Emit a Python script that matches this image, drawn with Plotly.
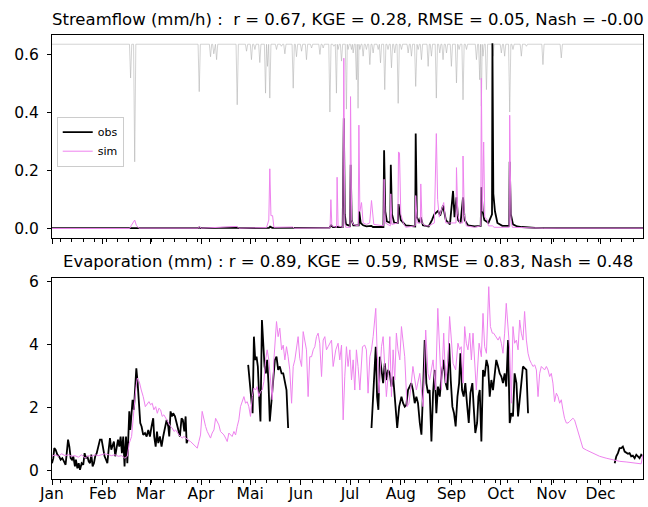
import pandas as pd
import plotly.graph_objects as go

START = pd.Timestamp("2020-01-01")
END_DAY = 360.9

# ---------------- Streamflow (mm/h) ----------------
q_obs_day = [0, 47, 48.5, 50.5, 52, 89.5, 90, 91, 113, 114, 132.5, 133.2, 134.5, 147.3, 160,
             169.5, 170.5, 171.5, 177.5, 178.2, 178.8, 179.5, 182, 182.4, 183, 184, 187.3, 187.6,
             188.5, 190, 192, 195, 196, 202.4, 202.8, 203.5, 204.5, 206.6, 206.9, 207.6, 209,
             211.2, 211.6, 213, 216, 221.8, 222.1, 222.8, 224.5, 225.2, 226.5, 230, 232, 233.5,
             235.8, 237, 238.8, 240.5, 243, 244.9, 245.8, 247, 248, 249.5, 251, 252, 254, 258,
             261.8, 262.2, 263, 264, 266.5, 268.7, 268.95, 269.5, 270.5, 272, 275, 279.2, 279.5,
             280.2, 281.5, 284, 287, 295, 310, 361]
q_obs = [0.002, 0.002, 0.004, 0.004, 0.002, 0.002, 0.005, 0.002, 0.004, 0.002, 0.003, 0.007, 0.003,
         0.004, 0.003, 0.004, 0.012, 0.006, 0.006, 0.38, 0.05, 0.015, 0.01, 0.22, 0.03, 0.012,
         0.012, 0.06, 0.02, 0.012, 0.008, 0.01, 0.006, 0.006, 0.27, 0.06, 0.025, 0.02, 0.22, 0.05,
         0.02, 0.02, 0.085, 0.03, 0.012, 0.008, 0.327, 0.04, 0.02, 0.04, 0.012, 0.008, 0.03, 0.05,
         0.062, 0.045, 0.08, 0.03, 0.015, 0.13, 0.04, 0.108, 0.03, 0.02, 0.108, 0.03, 0.012, 0.008,
         0.01, 0.143, 0.06, 0.03, 0.02, 0.05, 0.637, 0.12, 0.06, 0.02, 0.01, 0.01, 0.23, 0.05,
         0.015, 0.008, 0.006, 0.003, 0.002, 0.002]

q_sim_day = [0, 47.5, 48.5, 50.5, 51.5, 53, 89.5, 90, 91, 113, 114, 131, 132.4, 133, 133.7, 134.7,
             135.5, 147, 148, 166, 169.8, 170.3, 170.9, 173.8, 174.1, 174.7, 177.6, 178.2, 178.8,
             179.4, 182, 182.3, 183, 183.9, 187, 187.4, 188, 189, 190, 192, 194, 195.1, 196.5,
             202.5, 202.8, 203.5, 206.6, 206.9, 207.6, 211.2, 211.6, 212.2, 213, 214.5, 216, 221.8,
             222.1, 223, 225, 225.2, 226, 228, 230, 233.5, 234.7, 235.5, 236.5, 239.2, 240.5, 246.7,
             247, 247.8, 249, 250.8, 251, 251.8, 253, 258, 261.8, 262.2, 262.8, 263.6, 264.3, 265.9,
             266.5, 269, 270, 279.2, 279.5, 280.3, 281.1, 300, 361]
q_sim = [0.001, 0.001, 0.012, 0.03, 0.012, 0.002, 0.002, 0.008, 0.002, 0.008, 0.002, 0.004, 0.03,
         0.206, 0.045, 0.045, 0.005, 0.006, 0.002, 0.002, 0.003, 0.10, 0.01, 0.005, 0.177, 0.01,
         0.005, 0.586, 0.02, 0.005, 0.005, 0.454, 0.03, 0.015, 0.01, 0.356, 0.06, 0.09, 0.02,
         0.015, 0.02, 0.097, 0.015, 0.01, 0.17, 0.02, 0.01, 0.12, 0.015, 0.02, 0.264, 0.26, 0.05,
         0.02, 0.005, 0.01, 0.114, 0.02, 0.02, 0.154, 0.02, 0.01, 0.01, 0.02, 0.327, 0.1, 0.04,
         0.09, 0.02, 0.02, 0.21, 0.05, 0.02, 0.02, 0.25, 0.05, 0.01, 0.005, 0.01, 0.517, 0.06,
         0.298, 0.04, 0.03, 0.01, 0.01, 0.005, 0.005, 0.39, 0.03, 0.005, 0.002, 0.002]

# rainfall, drawn downward from the top of the streamflow panel
RAIN_TOP = 0.634
rain_day = [48.0, 50.5, 89.9, 96.8, 98.8, 100.5, 113.1, 118.8, 121.8, 123.9, 126.9, 130.4, 131.6,
            133.0, 137.1, 140.1, 142.2, 147.3, 149.3, 152.4, 155.4, 158.5, 163.6, 165.6, 169.7,
            172.1, 173.7, 174.7, 176.8, 179.8, 180.8, 182.9, 183.9, 185.9, 186.9, 188.0, 190.0,
            192.0, 194.1, 196.1, 199.2, 200.6, 203.2, 205.2, 207.3, 209.3, 211.4, 213.4, 217.5,
            219.5, 222.1, 223.6, 225.6, 229.7, 231.7, 234.7, 236.8, 238.8, 240.9, 243.9, 247.0,
            248.6, 251.0, 253.1, 259.2, 261.2, 262.2, 263.2, 265.3, 269.3, 274.4, 276.4, 279.5,
            281.5, 286.6, 289.7, 299.8, 311.0]
rain_depth = [0.116, 0.404, 0.163, 0.043, 0.033, 0.053, 0.208, 0.024, 0.053, 0.018, 0.063, 0.168,
              0.076, 0.185, 0.018, 0.007, 0.033, 0.151, 0.043, 0.024, 0.053, 0.013, 0.035, 0.013,
              0.233, 0.007, 0.168, 0.018, 0.058, 0.223, 0.018, 0.018, 0.03, 0.122, 0.22, 0.018,
              0.041, 0.018, 0.07, 0.03, 0.018, 0.064, 0.156, 0.018, 0.081, 0.03, 0.203, 0.018,
              0.03, 0.041, 0.145, 0.018, 0.053, 0.076, 0.041, 0.185, 0.03, 0.053, 0.03, 0.076,
              0.133, 0.018, 0.191, 0.018, 0.053, 0.122, 0.213, 0.041, 0.156, 0.041, 0.03, 0.041,
              0.233, 0.018, 0.041, 0.007, 0.07, 0.047]

# ---------------- Evaporation (mm) ----------------
evap_obs_day = [
    0, 0.8, 1.4, 2.2, 3.3, 4.3, 5.3, 6.3, 7.3, 8.3, 9.0, 9.8, 10.6, 11.4, 12.2, 13.0, 14.0, 14.6,
    15.5, 16.3, 17.1, 18.1, 19.1, 19.9, 20.7, 21.6, 22.4, 23.2, 24.0, 24.8, 25.6, 26.4, 27.3, 28.3,
    29.3, 30.3, 31.3, 32.1, 33.0, 33.8, 34.6, 35.4, 36.2, 37.0, 37.8, 38.6, 39.5, 40.3, 41.1, 41.9,
    42.7, 43.5, 44.3, 45.2, 46.0, 46.6, 47.2, 47.8, 48.6, 49.2, 50.0, 50.7, 51.5, 52.3, 53.1, 53.9,
    54.7, 55.7, 56.8, 57.8, 58.8, 59.8, 60.8, 61.8, 62.4, 63.3, 64.1, 64.9, 65.9, 66.9, 67.9, 69.0,
    70.0, 71.0, 71.6, 72.4, 73.2, 74.0, 75.1, 76.1, 77.1, 78.1, 79.1, 79.9, 80.8, 81.6, 82.2, 83.0,
    100,
    119.8, 120.8, 121.8, 122.5, 123.3, 124.1, 124.9, 125.7, 126.5, 127.3, 128.2, 129.0, 129.8,
    130.6, 131.4, 132.2, 133.0, 134.1, 135.1, 136.1, 137.1, 138.1, 139.1, 140.2, 141.2, 142.2,
    143.2, 144.2,
    170,
    195.1, 196.5, 197.7, 198.5, 199.3, 200.2, 201.2, 202.2, 203.2, 204.2, 205.2, 206.3, 207.3,
    208.3, 209.3, 210.8, 212.0, 213.4, 214.4, 215.4, 216.4, 217.4, 218.4, 219.4, 220.4, 221.5,
    222.5, 223.5, 224.6, 225.6, 226.6, 227.6, 228.6, 229.6, 230.6, 231.7, 232.7, 233.7, 234.7,
    235.7, 236.8, 237.8, 239.2, 240.4, 241.5, 242.5, 243.5, 244.5, 245.5, 246.5, 247.6, 248.6,
    249.4, 250.4, 251.4, 252.4, 253.4, 254.5, 255.5, 256.7, 257.5, 258.5, 259.6, 260.4, 261.2,
    262.2, 263.2, 264.2, 265.3, 266.3, 267.3, 268.3, 269.3, 270.3, 271.3, 272.4, 273.4, 274.4,
    275.4, 276.4, 277.4, 278.5, 279.5, 280.5, 281.5, 282.5, 283.6, 284.6, 285.6, 286.6, 287.6,
    288.6, 289.7, 290.7,
    320,
    343.6, 344.6, 345.6, 346.6, 347.6, 348.6, 349.7, 350.7, 351.7, 352.7, 353.7, 354.7, 355.8,
    356.8, 357.8, 358.8, 359.8, 360.8]
evap_obs = [
    0.23, 0.39, 0.71, 0.66, 0.50, 0.45, 0.34, 0.39, 0.29, 0.18, 0.55, 0.98, 0.76, 0.39, 0.34, 0.45,
    0.13, 0.34, 0.07, 0.23, 0.02, 0.23, 0.18, 0.55, 0.39, 0.45, 0.29, 0.23, 0.50, 0.13, 0.23, 0.45,
    0.55, 0.76, 0.98, 0.98, 0.66, 0.45, 0.34, 0.23, 0.66, 1.03, 0.66, 0.76, 0.92, 0.45, 0.76, 0.98,
    0.76, 1.08, 0.55, 1.08, 0.13, 1.08, 0.23, 1.08, 1.88, 1.29, 2.03, 2.25, 1.93, 2.46, 3.25, 2.78,
    2.03, 1.51, 1.40, 1.13, 1.19, 1.08, 1.29, 1.08, 1.40, 1.66, 1.08, 0.76, 1.24, 0.87, 1.08, 0.76,
    1.08, 1.40, 1.61, 1.40, 1.08, 1.88, 1.72, 1.82, 1.72, 1.51, 1.29, 1.08, 1.66, 1.61, 1.24, 1.72,
    0.87, 0.98,
    None,
    3.36, 2.78, 2.03, 1.82, 4.26, 3.52, 3.62, 3.31, 2.35, 1.56, 4.79, 4.05, 3.31, 3.09, 3.52, 2.78,
    1.56, 2.25, 2.78, 3.52, 3.62, 3.20, 3.31, 3.09, 3.09, 2.78, 2.56, 1.35,
    None,
    1.35, 3.00, 3.94, 2.35, 1.93, 3.62, 3.09, 2.78, 3.41, 2.88, 3.20, 3.09, 2.67, 2.99, 2.35, 1.35,
    2.03, 2.35, 2.14, 2.03, 2.09, 2.56, 2.67, 2.78, 2.56, 2.14, 2.35, 2.14, 1.51, 1.14, 2.56, 4.15,
    2.78, 2.46, 2.56, 0.92, 2.46, 3.20, 1.82, 2.67, 2.35, 2.99, 3.52, 2.78, 2.56, 4.05, 2.88, 2.03,
    1.82, 1.40, 2.35, 2.78, 3.73, 2.56, 2.35, 2.78, 2.14, 1.51, 2.46, 2.78, 2.03, 1.19, 1.51, 2.35,
    2.56, 0.92, 3.20, 2.99, 3.52, 3.31, 2.35, 2.88, 2.56, 3.09, 3.52, 3.31, 3.09, 2.99, 2.78, 3.09,
    2.67, 4.15, 1.51, 1.82, 1.72, 3.09, 2.78, 1.72, 2.35, 2.78, 3.31, 3.25, 3.20, 1.82,
    None,
    0.23, 0.45, 0.55, 0.71, 0.71, 0.76, 0.60, 0.55, 0.53, 0.55, 0.45, 0.47, 0.39, 0.50, 0.45, 0.39,
    0.50, 0.45]

evap_sim_day = [
    0, 1.8, 3.9, 5.9, 7.9, 10.0, 12.0, 14.0, 16.1, 18.1, 20.1, 22.2, 24.2, 26.2, 28.3, 30.3, 32.3,
    34.4, 36.4, 38.4, 40.5, 42.5, 44.5, 46.0, 47.2, 48.6, 50.0, 51.3, 52.1, 53.3, 54.5, 55.7, 57.0,
    58.2, 59.2, 60.2, 61.2, 62.2, 63.3, 64.3, 65.3, 66.3, 67.3, 68.3, 69.4, 70.4, 71.4, 72.4, 73.4,
    74.5, 75.5, 76.5, 77.5, 78.5, 79.5, 80.6, 81.6, 82.6, 83.6, 84.6, 85.6, 86.7, 87.7, 88.7, 89.7,
    90.7, 91.7, 92.8, 93.8, 94.8, 95.8, 96.8, 97.8, 98.9, 99.9, 100.9, 101.9, 102.9, 103.9, 105.0,
    106.0, 107.0, 108.0, 109.0, 110.0, 111.1, 112.1, 113.1, 114.1, 115.1, 116.2, 117.2, 118.2,
    119.2, 120.2, 121.2, 122.3, 123.3, 124.3, 125.3, 126.3, 127.3, 128.4, 129.4, 130.4, 131.4,
    132.4, 133.4, 134.5, 135.5, 136.5, 137.1, 138.1, 139.1, 140.2, 141.2, 142.2, 143.2, 144.2,
    145.2, 146.3, 147.3, 148.3, 149.3, 150.3, 151.3, 152.4, 153.4, 154.4, 155.4, 156.4, 157.4,
    158.5, 159.5, 160.5, 161.5, 162.5, 163.5, 164.6, 165.6, 166.6, 167.6, 168.6,
    170.7, 171.7, 173.3, 174.7, 175.7, 176.8, 177.8, 178.8, 179.8, 180.8, 181.9, 182.9, 183.9,
    184.9, 185.9, 186.9, 188.0, 189.6, 191.0, 192.0, 193.0, 194.1, 195.1, 196.1, 197.7, 198.5,
    199.7, 201.2, 202.2, 203.2, 204.2, 205.2, 206.3, 207.3, 208.3, 209.3, 210.3, 211.3, 212.4,
    213.4, 214.4, 215.4, 216.8, 218.0, 219.4, 220.4, 222.5, 224.6, 226.6, 228.2, 229.6, 230.6,
    232.7, 234.2, 235.6, 236.8, 237.8, 239.2, 240.4, 241.8, 242.8, 243.9, 244.9, 246.5, 247.9,
    248.9, 249.9, 251.0, 252.0, 253.0, 254.0, 255.1, 256.1, 257.1, 258.1, 259.1, 260.8, 262.2,
    263.2, 264.2, 265.3, 266.7, 267.7, 268.9, 269.7, 271.3, 272.4, 273.4, 274.4, 275.4, 276.4,
    277.4, 278.5, 279.5, 280.5, 281.5, 282.5, 283.6, 284.6, 285.6, 286.6, 287.6, 288.6, 289.7,
    290.7, 291.7, 292.7, 293.7, 294.8, 295.8, 296.8, 297.8, 298.8, 299.8, 300.8, 301.9, 302.9,
    303.9, 304.9, 305.9, 306.9, 308.0, 309.0, 310.0, 311.0, 312.0, 313.0, 314.1, 315.1, 316.1,
    318.1, 319.1, 320.2, 322.2, 324.2, 326.3, 330.3, 334.4, 338.4, 342.5, 346.6, 350.6, 355.7,
    359.8, 360.8]
evap_sim = [
    0.45, 0.50, 0.45, 0.53, 0.47, 0.50, 0.45, 0.47, 0.42, 0.50, 0.39, 0.47, 0.45, 0.50, 0.47, 0.50,
    0.53, 0.50, 0.47, 0.50, 0.45, 0.47, 0.39, 0.45, 0.87, 1.08, 2.03, 2.67, 2.94, 2.83, 2.56, 2.35,
    2.03, 2.14, 2.19, 2.09, 2.14, 1.93, 2.03, 1.82, 1.98, 1.93, 1.72, 1.77, 1.66, 1.61, 1.51, 1.40,
    1.35, 1.24, 1.29, 1.19, 1.13, 1.08, 1.03, 1.08, 1.03, 0.98, 0.95, 0.92, 0.87, 0.82, 0.76, 0.71,
    0.92, 1.13, 1.88, 1.61, 1.40, 1.24, 1.13, 1.03, 1.19, 1.29, 1.66, 1.56, 1.45, 1.24, 1.19, 1.13,
    1.03, 0.92, 1.19, 1.13, 1.08, 1.24, 1.13, 1.40, 1.61, 2.03, 2.19, 2.35, 2.14, 2.19, 2.03, 1.72,
    2.35, 2.62, 2.56, 2.67, 2.35, 2.51, 2.56, 2.83, 3.52, 3.84, 3.52, 2.88, 2.25, 3.52, 4.58, 4.74,
    4.26, 4.53, 3.84, 3.99, 3.52, 3.94, 3.62, 3.20, 2.14, 3.31, 3.52, 3.94, 4.26, 3.57, 3.31, 4.42,
    4.15, 3.84, 2.35, 3.62, 3.62, 3.84, 3.94, 4.26, 4.37, 4.05, 2.99, 4.15, 4.26, 3.84, 3.94,
    4.15, 3.31, 3.84, 4.05, 3.52, 3.99, 1.61, 3.00, 3.94, 3.31, 3.84, 2.88, 3.52, 2.56, 3.84, 3.31,
    2.56, 3.94, 3.99, 3.84, 2.46, 3.62, 3.84, 4.26, 5.16, 3.84, 2.46, 3.94, 4.26, 3.31, 2.35, 2.99,
    4.26, 2.35, 3.84, 2.88, 4.37, 3.84, 3.52, 4.58, 4.15, 3.62, 2.03, 2.14, 2.78, 3.31, 2.56, 3.09,
    2.03, 4.47, 3.09, 2.88, 3.52, 2.56, 5.16, 3.84, 2.56, 4.37, 2.78, 3.52, 4.90, 4.15, 3.41, 3.20,
    4.05, 3.84, 3.94, 2.78, 4.58, 4.05, 3.84, 4.37, 3.52, 4.37, 3.31, 2.56, 4.05, 3.62, 5.00, 3.94,
    3.73, 5.85, 4.58, 4.37, 4.37, 4.26, 4.15, 4.26, 4.05, 3.73, 4.37, 5.32, 4.58, 3.84, 2.14, 4.58,
    4.05, 4.15, 3.84, 4.79, 4.37, 4.15, 5.06, 4.15, 3.73, 3.52, 3.41, 3.31, 3.36, 3.20, 2.35, 3.09,
    3.31, 3.25, 3.20, 3.31, 3.20, 2.99, 3.09, 2.78, 2.19, 2.46, 2.35, 2.14, 2.25, 1.93, 1.66, 1.51,
    1.51, 1.56, 1.66, 1.61, 1.40, 1.08, 0.71, 0.65, 0.55, 0.45, 0.39, 0.34, 0.29, 0.27, 0.23, 0.21,
    0.50]

month_days = [0, 31, 60, 91, 121, 152, 182, 213, 244, 274, 305, 335]
month_labels = ["Jan", "Feb", "Mar", "Apr", "Mai", "Jun", "Jul", "Aug", "Sep", "Oct", "Nov", "Dec"]

title_q = "Streamflow (mm/h) :  r = 0.67, KGE = 0.28, RMSE = 0.05, Nash = -0.00"
title_e = "Evaporation (mm) : r = 0.89, KGE = 0.59, RMSE = 0.83, Nash = 0.48"


def to_dates(days):
    return [START + pd.Timedelta(days=float(d)) for d in days]


def rain_curve(days, depths, top, halfwidth=0.7):
    """Build an inverted hyetograph line hanging from `top`."""
    xs, ys = [0.0], [top]
    n = len(days)
    for i, (t, h) in enumerate(zip(days, depths)):
        left = t - halfwidth if i == 0 else max(t - halfwidth, (days[i - 1] + t) / 2)
        right = t + halfwidth if i == n - 1 else min(t + halfwidth, (t + days[i + 1]) / 2)
        xs += [left, t, right]
        ys += [top, top - h, top]
    xs.append(END_DAY + 1)
    ys.append(top)
    return xs, ys


FONT = "DejaVu Sans"
OBS_C = "black"
SIM_C = "#ee82ee"
TICK_SIZE = 15.5
TITLE_SIZE = 16.5

fig = go.Figure()

rx, ry = rain_curve(rain_day, rain_depth, RAIN_TOP)
fig.add_trace(go.Scatter(x=to_dates(rx), y=ry, mode="lines", showlegend=False,
                         line=dict(color="#b4b4b4", width=0.6), xaxis="x", yaxis="y"))
fig.add_trace(go.Scatter(x=to_dates(q_obs_day), y=q_obs, mode="lines", name="obs",
                         line=dict(color=OBS_C, width=1.8), xaxis="x", yaxis="y"))
fig.add_trace(go.Scatter(x=to_dates(q_sim_day), y=q_sim, mode="lines", name="sim",
                         line=dict(color=SIM_C, width=1), xaxis="x", yaxis="y"))

fig.add_trace(go.Scatter(x=to_dates(evap_obs_day), y=evap_obs, mode="lines", showlegend=False,
                         connectgaps=False, line=dict(color=OBS_C, width=1.8),
                         xaxis="x2", yaxis="y2"))
fig.add_trace(go.Scatter(x=to_dates(evap_sim_day), y=evap_sim, mode="lines", showlegend=False,
                         line=dict(color=SIM_C, width=1), xaxis="x2", yaxis="y2"))

x_range = [START, START + pd.Timedelta(days=END_DAY)]
month_ticks = to_dates(month_days)
common_x = dict(
    range=x_range, type="date", tickmode="array", tickvals=month_ticks,
    ticks="outside", ticklen=5, tickwidth=1, tickcolor="black",
    showline=True, linecolor="black", linewidth=1, mirror=True, automargin=False,
    showgrid=False, zeroline=False, tickfont=dict(size=TICK_SIZE), ticklabelstandoff=-5,
    minor=dict(ticks="outside", ticklen=3, tickwidth=1, tickcolor="black",
               dtick=7 * 86400000, tick0="2020-01-06", showgrid=False),
)
common_y = dict(ticks="outside", ticklen=4, tickwidth=1, tickcolor="black",
                showline=True, linecolor="black", linewidth=1, mirror=True, automargin=False,
                showgrid=False, zeroline=False, tickfont=dict(size=TICK_SIZE),
                ticklabelstandoff=5)

fig.update_layout(
    width=648, height=507,
    margin=dict(l=52, r=5, t=35, b=28, autoexpand=False),
    paper_bgcolor="white", plot_bgcolor="white",
    font=dict(family=FONT, size=14, color="black"),
    xaxis=dict(**common_x, domain=[0, 1], anchor="y", showticklabels=False, matches="x2"),
    yaxis=dict(**common_y, domain=[0.5428, 1], anchor="x", range=[-0.0317, 0.6657],
               tickvals=[0, 0.2, 0.4, 0.6], ticktext=["0.0", "0.2", "0.4", "0.6"]),
    xaxis2=dict(**common_x, domain=[0, 1], anchor="y2", ticktext=month_labels),
    yaxis2=dict(**common_y, domain=[0, 0.4527], anchor="x2", range=[-0.273, 6.127],
                tickvals=[0, 2, 4, 6], ticktext=["0", "2", "4", "6"]),
    legend=dict(x=0.008, y=0.816, xanchor="left", yanchor="top",
                bgcolor="rgba(255,255,255,0.8)", bordercolor="#cccccc", borderwidth=1,
                font=dict(family=FONT, size=11), itemwidth=30, tracegroupgap=0),
    showlegend=True,
    annotations=[
        dict(text=title_q, x=0.5, y=1.0338, xref="paper", yref="paper",
             xanchor="center", yanchor="middle", showarrow=False,
             font=dict(family=FONT, size=TITLE_SIZE)),
        dict(text=title_e, x=0.5, y=0.4899, xref="paper", yref="paper",
             xanchor="center", yanchor="middle", showarrow=False,
             font=dict(family=FONT, size=TITLE_SIZE)),
    ],
)

fig.write_html("out.html")
